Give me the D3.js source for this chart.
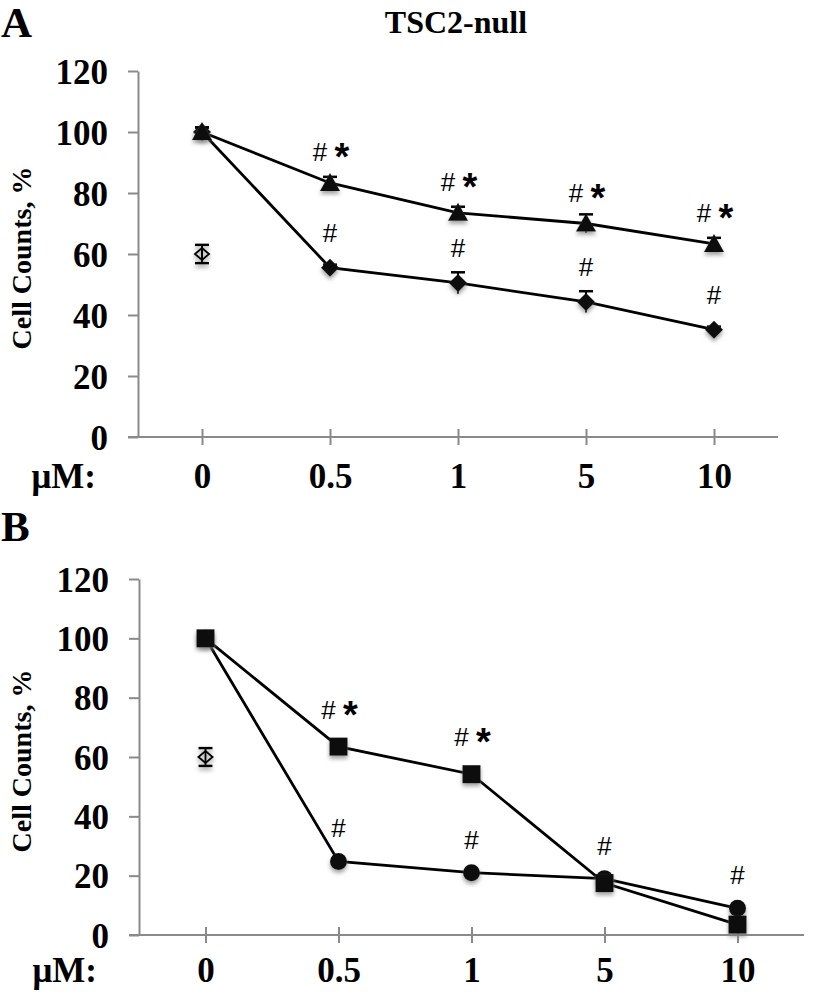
<!DOCTYPE html>
<html><head><meta charset="utf-8">
<script src="https://cdn.jsdelivr.net/npm/d3@7"></script>
<style>body{margin:0;background:#fff}svg{display:block}</style>
</head><body>
<svg id="c" width="820" height="992"></svg>
<script>
const doses = ["0","0.5","1","5","10"];
const yTicks = [0,20,40,60,80,100,120];
// Panel A (TSC2-null)
const aTriangle = [100, 83.3, 73.5, 70, 63.3];
const aTriangleErr = [1.5, 2, 2, 3, 2];
const aDiamond = [100, 55.5, 50.5, 44.3, 35.2];
const aDiamondErr = [1.5, 1, 3.5, 3.5, 1];
const aControl = 60, aControlErr = 3;
const aTriLabels = ["", "#*", "#*", "#*", "#*"];
const aDiaLabels = ["", "#", "#", "#", "#"];
// Panel B
const bSquare = [100, 63.5, 54.2, 17.5, 3.5];
const bSquareErr = [1, 1, 1, 1, 1];
const bCircle = [100, 24.8, 21, 19, 9];
const bCircleErr = [0.8, 0.8, 0.8, 0.8, 1];
const bControl = 60, bControlErr = 3;
const bSqLabels = ["", "#*", "#*", "", ""];
const bCirLabels = ["", "#", "#", "#", "#"];

const svg = d3.select("#c");
const defs = svg.append("defs");
const f = defs.append("filter").attr("id","sh").attr("x","-50%").attr("y","-50%").attr("width","200%").attr("height","200%");
f.append("feDropShadow").attr("dx",0).attr("dy",3).attr("stdDeviation",2).attr("flood-color","#777").attr("flood-opacity",0.7);

const serif = "'Liberation Serif','Times New Roman',serif";
const sans = "'Liberation Sans',Arial,sans-serif";
const fs = 35;

svg.append("text").attr("x",1).attr("y",37).attr("font-family",serif).attr("font-weight","bold").attr("font-size",43).text("A");
svg.append("text").attr("x",456).attr("y",33).attr("text-anchor","middle").attr("font-family",serif).attr("font-weight","bold").attr("font-size",32).text("TSC2-null");
svg.append("text").attr("x",1).attr("y",541).attr("font-family",serif).attr("font-weight","bold").attr("font-size",43).text("B");

function shape(g, type, x, y) {
  const s = g.append("g").attr("filter","url(#sh)");
  if (type==="tri") s.append("path").attr("d",`M${x},${y-10}L${x+10},${y+8}L${x-10},${y+8}Z`).attr("fill","#111");
  else if (type==="dia") s.append("path").attr("d",`M${x},${y-9}L${x+9},${y}L${x},${y+9}L${x-9},${y}Z`).attr("fill","#111");
  else if (type==="sq") s.append("rect").attr("x",x-9).attr("y",y-9).attr("width",18).attr("height",18).attr("fill","#111");
  else if (type==="cir") s.append("circle").attr("cx",x).attr("cy",y).attr("r",8.5).attr("fill","#111");
}

function panel(o) {
  const g = svg.append("g");
  const x = d3.scalePoint().domain(doses).range([o.x0, o.x1]).padding(0.5);
  const y = d3.scaleLinear().domain([0,120]).range([o.y0, o.y1]);
  const axisColor = "#8a8a8a";
  // y axis
  const ya = g.append("g").attr("transform",`translate(${o.x0},0)`).call(d3.axisLeft(y).tickValues(yTicks).tickSize(10).tickSizeOuter(0).tickPadding(20));
  ya.select(".domain").attr("stroke",axisColor).attr("stroke-width",2);
  ya.selectAll(".tick line").attr("stroke",axisColor).attr("stroke-width",2);
  ya.selectAll(".tick text").attr("font-family",serif).attr("font-weight","bold").attr("font-size",fs).attr("fill","#000").attr("dy","0.35em");
  // x axis
  g.append("line").attr("x1",o.x0-10).attr("x2",o.x1).attr("y1",o.y0).attr("y2",o.y0).attr("stroke",axisColor).attr("stroke-width",2);
  const xa = g.append("g").attr("transform",`translate(0,${o.y0})`).call(d3.axisBottom(x).tickSize(8).tickSizeOuter(0).tickPadding(o.lp));
  xa.select(".domain").remove();
  xa.selectAll(".tick line").attr("y1",-8).attr("y2",8).attr("stroke",axisColor).attr("stroke-width",2);
  xa.selectAll(".tick text").attr("font-family",serif).attr("font-weight","bold").attr("font-size",fs).attr("fill","#000").attr("dy","0.71em");
  g.append("text").attr("x",o.x0-42).attr("y",o.y0+o.lp+33).attr("text-anchor","end").attr("font-family",serif).attr("font-weight","bold").attr("font-size",fs).text("μM:");
  // y label
  const ym = (o.y0+o.y1)/2;
  g.append("text").attr("transform",`translate(31,${ym+4}) rotate(-90)`).attr("text-anchor","middle").attr("font-family",serif).attr("font-weight","bold").attr("font-size",28).text("Cell Counts, %");
  const line = d3.line().x((d,i)=>x(doses[i])).y(d=>y(d));
  o.series.forEach(s => {
    g.append("path").attr("d",line(s.vals)).attr("fill","none").attr("stroke","#000").attr("stroke-width",2.8);
  });
  o.series.forEach(s => {
    s.vals.forEach((v,i) => {
      const px = x(doses[i]);
      const e = s.err[i];
      g.append("line").attr("x1",px).attr("x2",px).attr("y1",y(v+e)).attr("y2",y(v-e)).attr("stroke","#000").attr("stroke-width",2);
      g.append("line").attr("x1",px-7).attr("x2",px+7).attr("y1",y(v+e)).attr("y2",y(v+e)).attr("stroke","#000").attr("stroke-width",2.5);
      shape(g, s.type, px, y(v));
      const lab = s.labels[i];
      if (lab) {
        const ly = y(v) - s.off;
        if (lab === "#*") {
          g.append("text").attr("x",px-10).attr("y",ly).attr("text-anchor","middle").attr("font-family",sans).attr("font-size",26).text("#");
          g.append("text").attr("x",px+12).attr("y",ly+9).attr("text-anchor","middle").attr("font-family",sans).attr("font-weight","bold").attr("font-size",38).text("*");
        } else {
          g.append("text").attr("x",px).attr("y",ly).attr("text-anchor","middle").attr("font-family",sans).attr("font-size",26).text("#");
        }
      }
    });
  });
  // control open diamond
  const cx = x(doses[0]), cy = y(o.ctrl), ce = o.ctrlErr;
  const cg = g.append("g").attr("filter","url(#sh)");
  cg.append("line").attr("x1",cx).attr("x2",cx).attr("y1",y(o.ctrl+ce)).attr("y2",y(o.ctrl-ce)).attr("stroke","#000").attr("stroke-width",2);
  cg.append("line").attr("x1",cx-7).attr("x2",cx+7).attr("y1",y(o.ctrl+ce)).attr("y2",y(o.ctrl+ce)).attr("stroke","#000").attr("stroke-width",2.5);
  cg.append("line").attr("x1",cx-7).attr("x2",cx+7).attr("y1",y(o.ctrl-ce)).attr("y2",y(o.ctrl-ce)).attr("stroke","#000").attr("stroke-width",2.5);
  cg.append("path").attr("d",`M${cx},${cy-6}L${cx+7},${cy}L${cx},${cy+6}L${cx-7},${cy}Z`).attr("fill","none").attr("stroke","#000").attr("stroke-width",2);
}

panel({x0:138, x1:778, y0:437, y1:71, lp:18, ctrl:aControl, ctrlErr:aControlErr,
  series:[
    {vals:aDiamond, err:aDiamondErr, type:"dia", labels:aDiaLabels, off:26},
    {vals:aTriangle, err:aTriangleErr, type:"tri", labels:aTriLabels, off:22}
  ]});
panel({x0:139, x1:804, y0:935, y1:579, lp:14, ctrl:bControl, ctrlErr:bControlErr,
  series:[
    {vals:bCircle, err:bCircleErr, type:"cir", labels:bCirLabels, off:24},
    {vals:bSquare, err:bSquareErr, type:"sq", labels:bSqLabels, off:28}
  ]});
</script>
</body></html>
